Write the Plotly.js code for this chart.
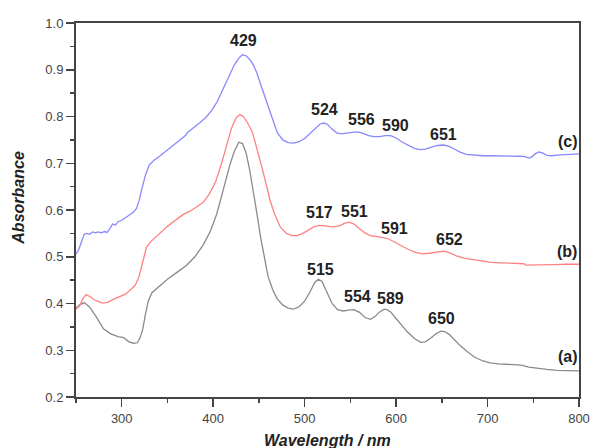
<!DOCTYPE html>
<html>
<head>
<meta charset="utf-8">
<script src="https://cdn.plot.ly/plotly-3.0.1.min.js"></script>
<style>html,body{margin:0;padding:0;background:#fff;}#chart{width:590px;height:448px;}</style>
</head>
<body>
<div id="chart"></div>
<script>
// Series (a) – black/grey
const xA = [250,254,259,265,272,280,288,296,302,308,313,317,320,323,326,329,333,340,350,360,371,380,389,397,404,411,418,423,428,432,436,440,444,448,452,456,460,465,470,476,482,488,494,500,506,511,515,519,524,530,536,542,548,554,560,566,572,577,582,587,590,594,599,605,612,620,627,632,638,644,649,653,658,664,670,678,686,695,703,712,722,730,737,745,755,765,776,788,800];
const yA = [0.390,0.397,0.402,0.392,0.372,0.346,0.335,0.329,0.327,0.318,0.315,0.316,0.326,0.345,0.378,0.405,0.423,0.435,0.452,0.466,0.482,0.500,0.525,0.555,0.592,0.643,0.695,0.725,0.745,0.742,0.722,0.685,0.640,0.590,0.540,0.496,0.458,0.430,0.410,0.397,0.390,0.388,0.393,0.405,0.425,0.445,0.452,0.447,0.425,0.400,0.387,0.384,0.386,0.387,0.381,0.370,0.366,0.372,0.382,0.388,0.387,0.382,0.370,0.355,0.340,0.325,0.317,0.318,0.326,0.336,0.341,0.340,0.334,0.322,0.310,0.297,0.285,0.277,0.273,0.271,0.270,0.270,0.268,0.264,0.261,0.259,0.257,0.256,0.256];

// Series (b) – red
const xB = [250,254,258,261,265,270,279,285,292,298,304,310,315,319,323,327,332,340,350,360,367,375,383,389,396,403,410,416,420,425,429,433,438,443,448,453,458,462,467,473,480,486,492,498,505,511,517,524,531,538,544,549,554,560,566,572,580,586,592,600,607,614,622,630,638,646,652,658,666,674,684,694,704,714,724,734,740,742,748,760,772,786,800];
const yB = [0.388,0.395,0.412,0.419,0.415,0.408,0.401,0.403,0.410,0.415,0.420,0.430,0.440,0.458,0.490,0.520,0.533,0.548,0.565,0.580,0.590,0.598,0.608,0.616,0.635,0.662,0.705,0.750,0.775,0.797,0.804,0.800,0.785,0.766,0.732,0.693,0.655,0.622,0.592,0.565,0.550,0.545,0.545,0.550,0.558,0.565,0.567,0.566,0.564,0.566,0.572,0.574,0.570,0.560,0.551,0.545,0.543,0.541,0.538,0.530,0.522,0.515,0.509,0.506,0.508,0.511,0.512,0.509,0.502,0.497,0.494,0.491,0.488,0.487,0.486,0.485,0.485,0.482,0.482,0.483,0.483,0.484,0.484];

// Series (c) – blue
const xC = [250,253,256,259,262,265,268,271,274,278,281,284,287,290,293,296,300,304,308,312,316,319,322,326,330,335,342,350,358,365,370,372,378,385,392,398,404,410,416,420,423,428,432,436,440,444,448,452,456,460,465,470,476,482,488,494,500,506,512,517,521,525,530,535,540,546,552,558,564,570,576,582,588,594,600,607,614,620,626,632,638,645,652,658,664,670,677,685,695,705,715,725,735,741,745,748,752,756,760,765,770,780,790,800];
const yC = [0.506,0.515,0.532,0.548,0.550,0.548,0.553,0.551,0.553,0.551,0.554,0.552,0.560,0.570,0.568,0.575,0.578,0.584,0.590,0.594,0.603,0.620,0.645,0.675,0.696,0.706,0.716,0.728,0.740,0.752,0.760,0.766,0.775,0.786,0.798,0.812,0.830,0.855,0.880,0.895,0.910,0.925,0.932,0.930,0.922,0.910,0.892,0.868,0.845,0.820,0.790,0.766,0.750,0.744,0.743,0.746,0.753,0.764,0.777,0.784,0.786,0.783,0.773,0.765,0.763,0.765,0.766,0.767,0.764,0.759,0.757,0.757,0.759,0.759,0.754,0.745,0.737,0.732,0.729,0.730,0.734,0.738,0.739,0.736,0.730,0.724,0.719,0.717,0.716,0.716,0.716,0.716,0.715,0.714,0.711,0.713,0.720,0.724,0.722,0.717,0.716,0.718,0.719,0.720];

// Peak labels
const peakText = ['429','524','556','590','651','(c)','517','551','591','652','(b)','515','554','589','650','(a)'];
const peakX = [432.6,522,561.7,599.7,651.9,788,516,554.4,597.8,658.4,787,516.8,558,593.5,650,788];
const peakY = [0.962,0.815,0.793,0.780,0.761,0.747,0.594,0.597,0.561,0.536,0.511,0.472,0.415,0.410,0.367,0.287];

const FONT = 'Liberation Sans, Arial, sans-serif';
const AX = '#444';

const traces = [
  {x: xA, y: yA, mode: 'lines', line: {color: '#8a8a8a', width: 1.3}, hoverinfo: 'skip'},
  {x: xB, y: yB, mode: 'lines', line: {color: '#ff8080', width: 1.3}, hoverinfo: 'skip'},
  {x: xC, y: yC, mode: 'lines', line: {color: '#8888ff', width: 1.3}, hoverinfo: 'skip'}
];

const annotations = peakText.map((t, i) => ({
  x: peakX[i], y: peakY[i], xref: 'x', yref: 'y', text: '<b>' + t + '</b>',
  showarrow: false, xanchor: 'center', yanchor: 'middle',
  font: {family: FONT, size: 16, color: '#222'}
}));
annotations.push({
  x: 0.5, y: -0.115, xref: 'paper', yref: 'paper', text: '<b><i>Wavelength / nm</i></b>',
  showarrow: false, xanchor: 'center', yanchor: 'middle',
  font: {family: FONT, size: 16, color: '#222'}
});
annotations.push({
  x: -0.116, y: 0.532, xref: 'paper', yref: 'paper', text: '<b><i>Absorbance</i></b>',
  showarrow: false, xanchor: 'center', yanchor: 'middle', textangle: -90,
  font: {family: FONT, size: 16, color: '#222'}
});

const axisCommon = {
  showgrid: false, zeroline: false, showline: true, mirror: true,
  linecolor: AX, linewidth: 2, ticks: 'outside', ticklen: 8, tickwidth: 1.5, tickcolor: AX,
  tickfont: {family: FONT, size: 13, color: AX}
};

const layout = {
  width: 590, height: 448,
  margin: {l: 76, r: 11, t: 23, b: 51},
  paper_bgcolor: '#fff', plot_bgcolor: '#fff',
  showlegend: false,
  font: {family: FONT},
  xaxis: Object.assign({}, axisCommon, {
    range: [250, 800], tickvals: [300, 400, 500, 600, 700, 800],
    minor: {tickvals: [250, 350, 450, 550, 650, 750], ticklen: 4, tickwidth: 1.5, tickcolor: AX, ticks: 'outside'}
  }),
  yaxis: Object.assign({}, axisCommon, {
    range: [0.2, 1.0], dtick: 0.1, tick0: 0.2, tickformat: '.1f',
    minor: {dtick: 0.05, tick0: 0.2, ticklen: 4, tickwidth: 1.5, tickcolor: AX, ticks: 'outside'}
  }),
  annotations: annotations
};

Plotly.newPlot('chart', traces, layout, {displayModeBar: false, staticPlot: true});
</script>
</body>
</html>
